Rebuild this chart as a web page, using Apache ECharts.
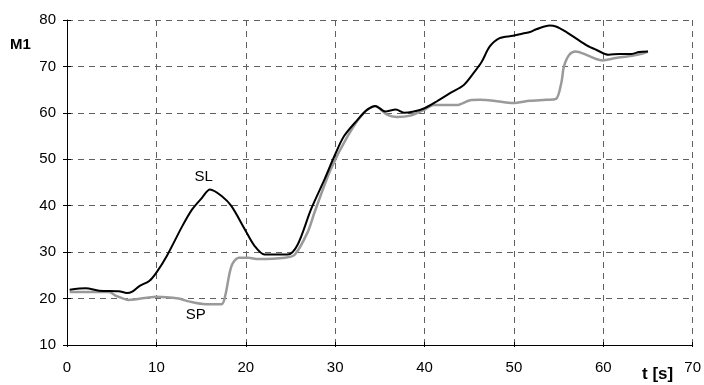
<!DOCTYPE html>
<html>
<head>
<meta charset="utf-8">
<script src="https://cdn.jsdelivr.net/npm/echarts@6/dist/echarts.min.js"></script>
<style>
  html, body { margin: 0; padding: 0; background: #fff; }
  #chart { width: 704px; height: 385px; }
</style>
</head>
<body>
<div id="chart"></div>
<script>
// Time stamps [s] and values for the SL trace
const slTime = [0.3, 2.1, 3.6, 5.8, 6.7, 7.3, 8.1, 9.2, 10.0, 11.2, 12.9, 14.0, 15.1, 16.0, 17.3, 18.4, 19.9, 21.0, 22.1, 24.7, 25.8, 27.3, 28.8, 29.9, 31.0, 32.5, 33.6, 34.5, 35.6, 36.8, 37.7, 38.8, 40.0, 41.4, 42.9, 44.4, 45.5, 46.4, 47.3, 48.4, 49.9, 51.0, 51.8, 52.5, 54.0, 54.7, 55.8, 56.9, 58.1, 59.2, 60.6, 61.8, 63.2, 64.0, 65.0];
const slValue = [21.9, 22.2, 21.7, 21.6, 21.2, 21.5, 22.7, 23.8, 25.6, 29.3, 35.6, 39.2, 41.7, 43.5, 42.1, 39.9, 34.9, 31.3, 29.5, 29.5, 31.6, 39.2, 45.6, 50.6, 55.0, 58.5, 60.7, 61.5, 60.3, 60.7, 60.0, 60.3, 61.0, 62.5, 64.3, 66.0, 68.6, 71.0, 74.3, 76.1, 76.6, 77.1, 77.4, 78.0, 78.8, 78.6, 77.5, 76.1, 74.6, 73.6, 72.5, 72.7, 72.7, 73.1, 73.2];

// Time stamps [s] and values for the SP trace
const spTime = [0.3, 4.7, 5.5, 6.9, 10.0, 12.5, 13.6, 15.5, 17.3, 17.7, 18.4, 19.2, 20.3, 21.4, 24.4, 25.5, 26.9, 27.7, 29.5, 31.4, 33.2, 34.5, 35.8, 36.9, 38.4, 40.0, 41.0, 43.6, 45.1, 46.2, 48.1, 49.9, 51.8, 53.6, 54.7, 55.3, 55.6, 56.2, 56.9, 58.1, 59.2, 59.9, 61.4, 63.2, 64.4, 65.0];
const spValue = [21.4, 21.4, 20.6, 19.7, 20.4, 20.0, 19.4, 18.8, 18.8, 20.6, 27.0, 28.8, 28.8, 28.5, 28.8, 29.5, 34.2, 38.6, 47.8, 55.0, 60.0, 61.4, 59.6, 59.1, 59.4, 60.7, 61.7, 61.7, 62.7, 62.8, 62.5, 62.1, 62.6, 62.8, 63.0, 66.4, 70.0, 72.5, 73.2, 72.5, 71.6, 71.3, 71.8, 72.3, 72.8, 73.2];

// Axis ranges and tick steps
const xRange = [0, 70], xStep = 10;
const yRange = [10, 80], yStep = 10;

// Curve tags and where they sit
const tags = [
  { name: 'SL', coord: [15.3, 46.3] },
  { name: 'SP', coord: [14.4, 16.4] }
];

const zip = (a, b) => a.map((v, i) => [v, b[i]]);

const font = '"Liberation Sans", Arial, sans-serif';
const gridLine = { show: true, lineStyle: { color: '#606060', type: [6, 5], width: 1 } };
const black = { color: '#000', width: 1 };

// Second pair of axes only adds the inner half of each tick mark
const innerTicks = (min, max, step, len) => ({
  type: 'value', min, max, interval: step,
  axisLine: { show: false, onZero: false },
  axisTick: { show: true, inside: true, length: len, lineStyle: { color: '#000' } },
  axisLabel: { show: false },
  splitLine: { show: false }
});

const chart = echarts.init(document.getElementById('chart'), null, { renderer: 'canvas' });
chart.setOption({
  animation: false,
  backgroundColor: '#fff',
  grid: { left: 67, right: 7, top: 20, bottom: 40, containLabel: false },
  xAxis: [
    {
      type: 'value', min: xRange[0], max: xRange[1], interval: xStep, position: 'bottom',
      axisLine: { show: true, onZero: false, lineStyle: black },
      axisTick: { show: true, length: 2, lineStyle: { color: '#000' } },
      axisLabel: { color: '#000', fontFamily: font, fontSize: 15, margin: 15 },
      splitLine: gridLine
    },
    Object.assign(innerTicks(xRange[0], xRange[1], xStep, 3), { position: 'bottom' })
  ],
  yAxis: [
    {
      type: 'value', min: yRange[0], max: yRange[1], interval: yStep, position: 'left',
      axisLine: { show: true, onZero: false, lineStyle: black },
      axisTick: { show: true, length: 4, lineStyle: { color: '#000' } },
      axisLabel: { color: '#000', fontFamily: font, fontSize: 15, margin: 11 },
      splitLine: gridLine
    },
    Object.assign(innerTicks(yRange[0], yRange[1], yStep, 4), { position: 'left' })
  ],
  graphic: [
    { type: 'text', left: 10, top: 37, style: { text: 'M1', font: 'bold 15px ' + font, fill: '#000' } },
    { type: 'text', left: 642, top: 366, style: { text: 't [s]', font: 'bold 17px ' + font, fill: '#000' } }
  ],
  series: [
    {
      name: 'SP', type: 'line', data: zip(spTime, spValue), smooth: 0.3,
      showSymbol: false, lineStyle: { color: '#9a9a9a', width: 2.5 }, z: 2,
      markPoint: {
        symbol: 'circle', symbolSize: 0,
        label: { show: true, formatter: '{b}', color: '#000', fontFamily: font, fontSize: 15 },
        data: [{ name: tags[1].name, coord: tags[1].coord }]
      }
    },
    {
      name: 'SL', type: 'line', data: zip(slTime, slValue), smooth: 0.3,
      showSymbol: false, lineStyle: { color: '#000', width: 2 }, z: 3,
      markPoint: {
        symbol: 'circle', symbolSize: 0,
        label: { show: true, formatter: '{b}', color: '#000', fontFamily: font, fontSize: 15 },
        data: [{ name: tags[0].name, coord: tags[0].coord }]
      }
    }
  ]
});
</script>
</body>
</html>
